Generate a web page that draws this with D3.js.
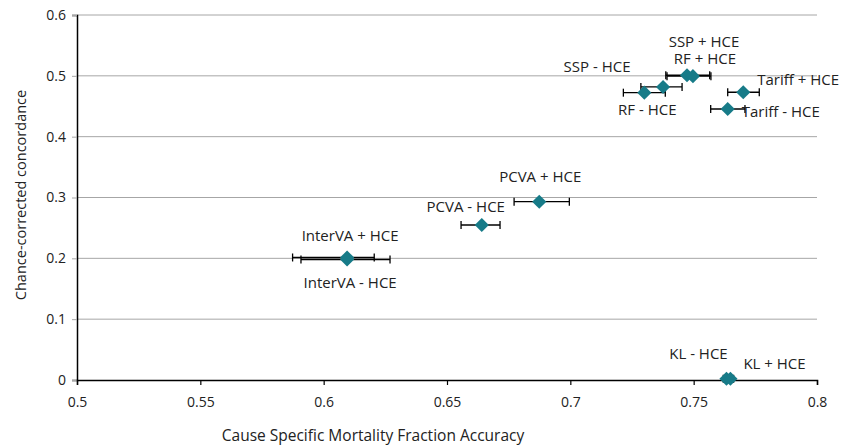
<!DOCTYPE html>
<html>
<head>
<meta charset="utf-8">
<script src="https://cdn.jsdelivr.net/npm/d3@7"></script>
<style>
  body { margin: 0; background: #fff; }
  text { font-family: "Open Sans", sans-serif; fill: #222; }
</style>
</head>
<body>
<div id="chart"></div>
<script>
// Values
var methods = ["SSP + HCE", "RF + HCE", "SSP - HCE", "RF - HCE", "Tariff + HCE", "Tariff - HCE",
               "PCVA + HCE", "PCVA - HCE", "InterVA + HCE", "InterVA - HCE", "KL - HCE", "KL + HCE"];
var csmfAccuracy = [0.7473, 0.7497, 0.7376, 0.7300, 0.7701, 0.7638, 0.6874, 0.6641, 0.6095, 0.6095, 0.7633, 0.7649];
var csmfLow      = [0.7387, 0.7392, 0.7286, 0.7215, 0.7638, 0.7569, 0.6772, 0.6557, 0.5874, 0.5908, 0.7620, 0.7636];
var csmfHigh     = [0.7565, 0.7570, 0.7453, 0.7385, 0.7766, 0.7708, 0.6996, 0.6715, 0.6205, 0.6269, 0.7646, 0.7662];
var concordance  = [0.5010, 0.4995, 0.4817, 0.4723, 0.4730, 0.4455, 0.2931, 0.2548, 0.2014, 0.1981, 0.0020, 0.0020];

var xTicks = [0.5, 0.55, 0.6, 0.65, 0.7, 0.75, 0.8];
var yTicks = [0, 0.1, 0.2, 0.3, 0.4, 0.5, 0.6];

// label placement relative to each point (anchor, dx, dy)
var labelPlace = [
    ["middle", 17, -28], ["middle", 12, -12], ["middle", -66, -15], ["middle", 3, 22],
    ["start", 14, -7], ["start", 14, 8], ["middle", 1, -20], ["middle", -16, -13],
    ["middle", 3, -16], ["middle", 3, 29], ["middle", -28, -20], ["start", 13, -10]
];

var margin = { left: 77, right: 29, top: 15, bottom: 68 };
var width = 846 - margin.left - margin.right,
    height = 448 - margin.top - margin.bottom;

var svg = d3.select("#chart")
    .append("svg")
    .attr("width", 846)
    .attr("height", 448)
    .append("g")
    .attr("transform", "translate(" + margin.left + "," + margin.top + ")");

var x = d3.scaleLinear().domain([0.5, 0.8]).range([0, width]);
var y = d3.scaleLinear().domain([0, 0.6]).range([height, 0]);

// gridlines
svg.selectAll(".grid")
    .data(yTicks.filter(function(d){ return d > 0; }))
    .enter().append("line")
    .attr("x1", 0).attr("x2", width)
    .attr("y1", function(d){ return y(d); })
    .attr("y2", function(d){ return y(d); })
    .attr("stroke", "#a6a6a6")
    .attr("stroke-width", 1);

// Y axis
var yAxis = svg.append("g")
    .call(d3.axisLeft(y).tickValues(yTicks).tickSize(5).tickPadding(6).tickFormat(function(d){ return String(d); }));
yAxis.select(".domain").attr("stroke", "#000").attr("stroke-width", 1.5);
yAxis.selectAll(".tick line").attr("stroke", "#a6a6a6");
yAxis.selectAll("text").attr("font-size", "14px").attr("fill", "#222").style("font-family", "Open Sans");

// X axis
var xAxis = svg.append("g")
    .attr("transform", "translate(0," + height + ")")
    .call(d3.axisBottom(x).tickValues(xTicks).tickSize(5).tickPadding(12).tickFormat(function(d){ return String(d); }));
xAxis.select(".domain").attr("stroke", "#000").attr("stroke-width", 1.5);
xAxis.selectAll(".tick line").attr("stroke", "#000").attr("stroke-width", 1.2);
xAxis.selectAll("text").attr("font-size", "14px").attr("fill", "#222").style("font-family", "Open Sans");

// axis titles
svg.append("text")
    .attr("x", 296)
    .attr("y", height + 61)
    .attr("font-size", "15.5px")
    .attr("text-anchor", "middle")
    .text("Cause Specific Mortality Fraction Accuracy");

svg.append("text")
    .attr("transform", "rotate(-90)")
    .attr("x", -180)
    .attr("y", -51)
    .attr("font-size", "14.5px")
    .attr("text-anchor", "middle")
    .text("Chance-corrected concordance");

// error bars
var bars = svg.selectAll(".errbar")
    .data(methods)
    .enter().append("g")
    .attr("class", "errbar");

bars.append("line")
    .attr("x1", function(d, i){ return x(csmfLow[i]); })
    .attr("x2", function(d, i){ return x(csmfHigh[i]); })
    .attr("y1", function(d, i){ return y(concordance[i]); })
    .attr("y2", function(d, i){ return y(concordance[i]); })
    .attr("stroke", "#000").attr("stroke-width", 1.3);

[csmfLow, csmfHigh].forEach(function(arr){
    bars.append("line")
        .attr("x1", function(d, i){ return x(arr[i]); })
        .attr("x2", function(d, i){ return x(arr[i]); })
        .attr("y1", function(d, i){ return y(concordance[i]) - 4; })
        .attr("y2", function(d, i){ return y(concordance[i]) + 4; })
        .attr("stroke", "#000").attr("stroke-width", 1.3);
});

// diamonds
var diamond = d3.symbol().type(d3.symbolSquare).size(100);
svg.selectAll(".pt")
    .data(methods)
    .enter().append("path")
    .attr("class", "pt")
    .attr("d", diamond)
    .attr("transform", function(d, i){
        return "translate(" + x(csmfAccuracy[i]) + "," + y(concordance[i]) + ") rotate(45)";
    })
    .attr("fill", "#177b88");

// point labels
svg.selectAll(".lbl")
    .data(methods)
    .enter().append("text")
    .attr("class", "lbl")
    .attr("x", function(d, i){ return x(csmfAccuracy[i]) + labelPlace[i][1]; })
    .attr("y", function(d, i){ return y(concordance[i]) + labelPlace[i][2]; })
    .attr("text-anchor", function(d, i){ return labelPlace[i][0]; })
    .attr("font-size", "15px")
    .text(function(d){ return d; });
</script>
</body>
</html>
